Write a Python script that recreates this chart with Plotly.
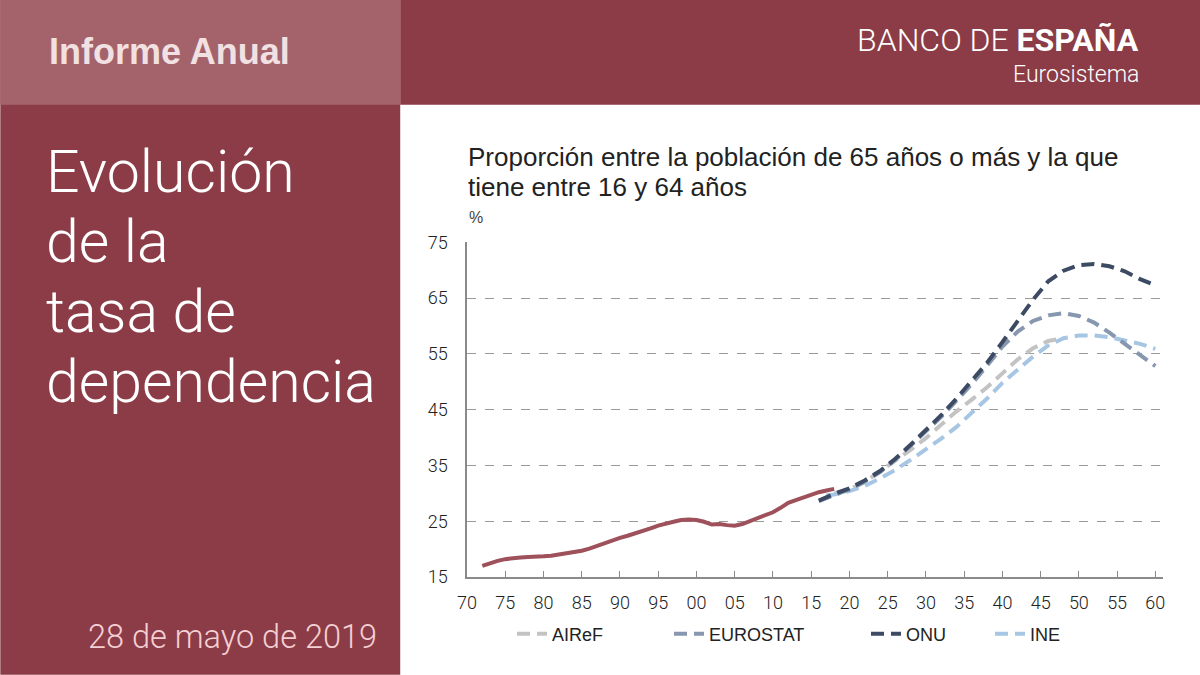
import plotly.graph_objects as go

# ---------------- data ----------------
hist_years = list(range(1972, 2019))
hist_values = [17.0, 17.5, 17.9, 18.2, 18.4, 18.5, 18.6, 18.6, 18.7, 18.8,
               19.0, 19.2, 19.4, 19.7, 20.1, 20.6, 21.1, 21.6, 22.0,
               22.4, 22.8, 23.2, 23.7, 24.2, 24.6, 24.9, 25.2, 25.3, 25.2,
               24.9, 24.4, 24.5, 24.3, 24.2, 24.5, 25.0, 25.6, 26.1, 26.6,
               27.4, 28.3, 28.8, 29.3, 29.7, 30.2, 30.5, 30.8]

airef_years = [2018, 2020, 2022, 2024, 2026, 2028, 2030, 2032, 2034, 2036, 2038,
               2040, 2042, 2044, 2046, 2048]
airef_values = [30.0, 30.7, 32.0, 33.9, 35.9, 37.8, 39.9, 42.3, 44.7, 46.8, 49.0,
                51.5, 54.0, 56.0, 57.3, 57.8]

eurostat_years = [2016, 2018, 2020, 2022, 2024, 2026, 2028, 2030, 2032, 2034, 2036,
                  2038, 2040, 2042, 2044, 2046, 2048, 2050, 2052, 2054, 2056, 2058, 2060]
eurostat_values = [28.6, 29.7, 30.7, 32.1, 33.8, 36.0, 38.5, 41.0, 43.7, 46.6, 49.6,
                   52.9, 56.3, 59.0, 60.9, 61.9, 62.3, 61.8, 60.6, 58.8, 56.8, 54.6, 52.8]

onu_years = [2016, 2018, 2020, 2022, 2024, 2026, 2028, 2030, 2032, 2034, 2036,
             2038, 2040, 2042, 2044, 2046, 2048, 2050, 2052, 2054, 2056, 2058, 2060]
onu_values = [28.7, 29.9, 30.9, 32.3, 34.0, 36.2, 38.7, 41.3, 44.0, 47.0, 50.1,
              53.4, 57.1, 60.9, 64.7, 68.0, 69.9, 70.9, 71.1, 70.7, 69.8, 68.4, 67.3]

ine_years = [2017, 2018, 2020, 2022, 2024, 2026, 2028, 2030, 2032, 2034, 2036,
             2038, 2040, 2042, 2044, 2046, 2048, 2050, 2052, 2054, 2056, 2058, 2060]
ine_values = [29.6, 29.8, 30.4, 31.3, 32.7, 34.2, 36.0, 37.8, 39.8, 41.9, 44.4,
              47.0, 49.8, 52.2, 54.5, 56.5, 57.8, 58.3, 58.3, 58.0, 57.4, 56.8, 55.9]

x_tickvals = list(range(1970, 2061, 5))
x_ticktext = ["70", "75", "80", "85", "90", "95", "00", "05", "10", "15",
              "20", "25", "30", "35", "40", "45", "50", "55", "60"]
y_tickvals = [15, 25, 35, 45, 55, 65, 75]

title_lines = ["Evolución", "de la", "tasa de", "dependencia"]
chart_title_lines = ["Proporción entre la población de 65 años o más y la que",
                     "tiene entre 16 y 64 años"]

# ---------------- styling ----------------
W, H = 1200, 675
L, R, T, B = 466.8, 1163.0, 242.3, 577.3
MAROON = "#8B3C46"
MAROON_LIGHT = "#A4636B"
TXT = "#222222"
FONT = "Liberation Sans, Arial, sans-serif"
LIGHT_FONT = "Roboto, Liberation Sans, sans-serif"
DASH = "13px,7px"


def px(x):
    return (x - L) / (R - L)


def py(y):
    return (B - y) / (B - T)


fig = go.Figure()

fig.add_trace(go.Scatter(x=hist_years, y=hist_values, mode="lines",
                         line=dict(color="#9E515A", width=4), showlegend=False,
                         hoverinfo="skip"))
fig.add_trace(go.Scatter(x=airef_years, y=airef_values, mode="lines", name="AIReF",
                         line=dict(color="#C3C3C3", width=4, dash=DASH), legend="legend"))
fig.add_trace(go.Scatter(x=ine_years, y=ine_values, mode="lines", name="INE",
                         line=dict(color="#A7C6E4", width=4, dash=DASH), legend="legend4"))
fig.add_trace(go.Scatter(x=eurostat_years, y=eurostat_values, mode="lines", name="EUROSTAT",
                         line=dict(color="#8797AF", width=4, dash=DASH), legend="legend2"))
fig.add_trace(go.Scatter(x=onu_years, y=onu_values, mode="lines", name="ONU",
                         line=dict(color="#3C4B63", width=4, dash=DASH), legend="legend3"))

shapes = [
    dict(type="rect", xref="paper", yref="paper", x0=px(0), x1=px(400), y0=py(675), y1=py(0),
         fillcolor=MAROON, line=dict(width=0), layer="below"),
    dict(type="rect", xref="paper", yref="paper", x0=px(400), x1=px(1200), y0=py(105), y1=py(0),
         fillcolor=MAROON, line=dict(width=0), layer="below"),
    dict(type="rect", xref="paper", yref="paper", x0=px(0), x1=px(400), y0=py(105), y1=py(0),
         fillcolor=MAROON_LIGHT, line=dict(width=0), layer="below"),
]

annotations = [
    dict(text="<b>Informe Anual</b>", x=px(47), y=py(52), xanchor="left", yanchor="middle",
         font=dict(family=FONT, size=36, color="#F2E1E3")),
    dict(text="28 de mayo de 2019", x=px(379), y=py(637), xanchor="right", yanchor="middle",
         font=dict(family=LIGHT_FONT, size=32.5, color="#F4CFD4", weight=300)),
    dict(text="BANCO DE <b>ESPAÑA</b>", x=px(1141), y=py(40), xanchor="right", yanchor="middle",
         font=dict(family=LIGHT_FONT, size=32, color="#FFFFFF", weight=300)),
    dict(text="Eurosistema", x=px(1141), y=py(75), xanchor="right", yanchor="middle",
         font=dict(family=LIGHT_FONT, size=23, color="#FFFFFF", weight=300)),
    dict(text="%", x=px(467), y=py(218), xanchor="left", yanchor="middle",
         font=dict(family=FONT, size=16, color="#444444")),
]
for i, line in enumerate(title_lines):
    annotations.append(dict(text=line, x=px(44), y=py(172 + 70 * i), xanchor="left",
                            yanchor="middle",
                            font=dict(family=LIGHT_FONT, size=59, color="#FFFFFF", weight=300)))
for i, line in enumerate(chart_title_lines):
    annotations.append(dict(text=line, x=px(466), y=py(157 + 30 * i), xanchor="left",
                            yanchor="middle", font=dict(family=FONT, size=26, color=TXT)))

for a in annotations:
    a.update(xref="paper", yref="paper", showarrow=False)

legend_common = dict(orientation="h", xref="container", yref="container", yanchor="middle",
                     font=dict(family=FONT, size=18, color=TXT), bgcolor="rgba(0,0,0,0)",
                     itemwidth=30)

fig.update_layout(
    width=W, height=H,
    margin=dict(l=L, r=W - R, t=T, b=H - B, pad=0, autoexpand=False),
    paper_bgcolor="white", plot_bgcolor="white",
    shapes=shapes, annotations=annotations,
    legend=dict(x=512 / W, y=1 - 634 / H, **legend_common),
    legend2=dict(x=669 / W, y=1 - 634 / H, **legend_common),
    legend3=dict(x=866 / W, y=1 - 634 / H, **legend_common),
    legend4=dict(x=990 / W, y=1 - 634 / H, **legend_common),
    xaxis=dict(range=[1970, 2061], tickvals=x_tickvals, ticktext=x_ticktext,
               showgrid=False, zeroline=False, showline=True, linecolor="#8A8A8A", linewidth=1.5,
               ticks="inside", ticklen=6, tickcolor="#8A8A8A", tickwidth=1,
               ticklabelstandoff=9, automargin=False,
               tickfont=dict(family=LIGHT_FONT, size=18, color=TXT, weight=300)),
    yaxis=dict(range=[15, 75.05], tickvals=y_tickvals, showgrid=True, gridcolor="#9A9A9A",
               griddash="dash", gridwidth=1, zeroline=False, showline=True,
               linecolor="#8A8A8A", linewidth=1.5, ticks="",
               ticklabelstandoff=14, automargin=False,
               tickfont=dict(family=LIGHT_FONT, size=18, color=TXT, weight=300)),
)

fig.write_html("out.html", config={"displayModeBar": False},
               post_script="document.body.style.margin='0';")
